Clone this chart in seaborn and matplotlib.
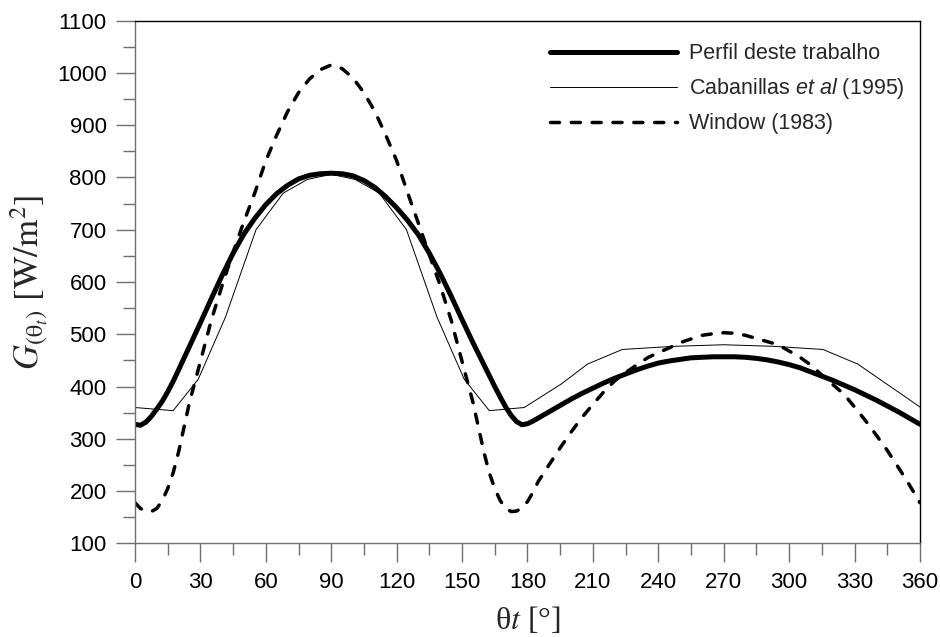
import numpy as np
import pandas as pd
import matplotlib
matplotlib.use('Agg')
import matplotlib.pyplot as plt
import seaborn as sns
from matplotlib.ticker import MultipleLocator

# angulos (graus) usados para as curvas suaves
angulos = [0, 2.5, 5, 7.5, 10, 12.5, 15, 17.5, 20, 25, 30, 35, 40, 45, 50, 55,
           60, 65, 70, 75, 80, 85, 90, 95, 100, 105, 110, 115, 120, 125, 130,
           135, 140, 145, 150, 155, 160, 162.5, 165, 167.5, 170, 172.5, 175,
           177.5, 180, 182.5, 185, 190, 195, 200, 205, 210, 215, 220, 225, 230,
           235, 240, 245, 250, 255, 260, 265, 270, 275, 280, 285, 290, 295, 300,
           305, 310, 315, 320, 325, 330, 335, 340, 345, 350, 355, 360]

# Perfil deste trabalho
perfil = [328, 326, 332, 343, 357, 372, 390, 410, 432, 477, 522, 568, 613, 655,
          692, 722, 748, 769, 785, 797, 804, 807, 808, 807, 803, 794, 781, 763,
          742, 718, 690, 655, 616, 573, 528, 484, 442, 421, 400, 380, 361, 345,
          333, 327, 329, 334, 340, 352, 364, 376, 387, 397, 407, 416, 424, 432,
          439, 445, 449, 452, 455, 456, 457, 457, 457, 456, 454, 451, 447, 442,
          436, 428, 420, 412, 403, 394, 384, 374, 363, 352, 340, 328]

# Window (1983)
window = [178, 167, 162, 161, 167, 182, 205, 235, 275, 370, 448, 527, 594, 657,
          716, 771, 832, 881, 926, 962, 988, 1006, 1015, 1008, 990, 962, 926,
          881, 832, 771, 712, 652, 593, 527, 448, 370, 275, 235, 205, 182, 167,
          161, 162, 168, 180, 198, 219, 251, 283, 313, 341, 366, 390, 411, 427,
          441, 455, 465, 474, 484, 491, 498, 501, 503, 502, 498, 492, 486, 480,
          468, 456, 441, 422, 404, 386, 361, 335, 307, 278, 246, 213, 178]

# Cabanillas et al (1995) - poligonal
cab_ang = [0, 17.5, 29, 41.5, 55.5, 68, 79, 90, 101, 112, 124.5, 138.5, 151,
           162.5, 178.5, 195.5, 207.5, 223.5, 247, 270, 293, 315.5, 331.5, 360]
cab_val = [360, 354, 414, 533, 700, 770, 796, 806, 796, 770, 700, 533, 414,
           354, 360, 405, 443, 471, 477, 480, 477, 471, 443, 361]

sns.set_theme(style='white')
plt.rcParams['font.family'] = ['Liberation Sans', 'DejaVu Sans']
plt.rcParams['mathtext.fontset'] = 'custom'
plt.rcParams['mathtext.rm'] = 'Liberation Sans'
plt.rcParams['mathtext.it'] = 'Liberation Sans:italic'

fig, ax = plt.subplots(figsize=(9.4, 6.37), dpi=100)
fig.subplots_adjust(left=0.1436, right=0.9787, bottom=0.1468, top=0.9678)

sns.lineplot(x=angulos, y=perfil, ax=ax, color='black', linewidth=3.6,
             label='Perfil deste trabalho')
sns.lineplot(x=cab_ang, y=cab_val, ax=ax, color='black', linewidth=0.7,
             label='Cabanillas $et\\ al$ (1995)')
sns.lineplot(x=angulos, y=window, ax=ax, color='black', linewidth=2.5,
             linestyle=(0, (2.6, 3.4)), dash_capstyle='round',
             label='Window (1983)')

ax.set_xlim(0, 360)
ax.set_ylim(100, 1100)
ax.xaxis.set_major_locator(MultipleLocator(30))
ax.xaxis.set_minor_locator(MultipleLocator(15))
ax.yaxis.set_major_locator(MultipleLocator(100))
ax.yaxis.set_minor_locator(MultipleLocator(50))

ax.tick_params(which='major', direction='out', length=13.5, width=1,
               color='#707070', labelsize=16, labelcolor='black', pad=7)
ax.tick_params(which='minor', direction='out', length=8.5, width=1,
               color='#707070')
ax.tick_params(axis='x', which='both', bottom=True, top=False)
ax.tick_params(axis='y', which='both', left=True, right=False)

for lado in ['left', 'bottom']:
    ax.spines[lado].set_color('#707070')
    ax.spines[lado].set_linewidth(1)
for lado in ['top', 'right']:
    ax.spines[lado].set_color('black')
    ax.spines[lado].set_linewidth(1)

ax.set_xlabel('θ$t$ [°]', fontsize=23, family=['Liberation Serif', 'DejaVu Serif'],
              math_fontfamily='stix', labelpad=9)
ax.set_ylabel('$G_{(\\mathrm{\\theta}_t)}\\ [\\mathrm{W/m^2}]$', fontsize=25,
              math_fontfamily='stix', labelpad=5)

leg = ax.legend(loc='upper right', frameon=False, fontsize=15.5, handlelength=5.9,
                handletextpad=0.55, labelspacing=0.55, borderaxespad=0.3,
                bbox_to_anchor=(1.0, 0.985))

fig.savefig('out.png', dpi=100)
